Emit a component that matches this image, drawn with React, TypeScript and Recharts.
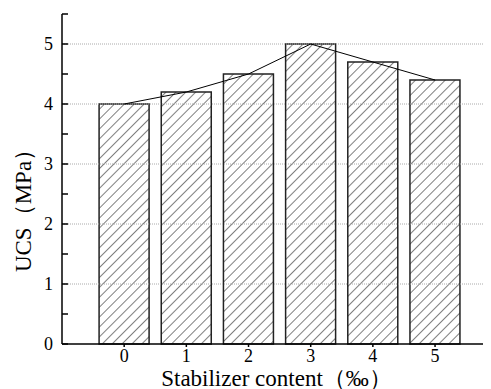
import { ComposedChart, Bar, Line, XAxis, YAxis, ReferenceLine } from 'recharts'

const contents = [0, 1, 2, 3, 4, 5]
const ucs = [4.0, 4.2, 4.5, 5.0, 4.7, 4.4]
const yTicks = [0, 0.5, 1, 1.5, 2, 2.5, 3, 3.5, 4, 4.5, 5, 5.5]
const gridValues = [1, 2, 3, 4, 5]

const data = contents.map((c, i) => ({ content: c, ucs: ucs[i] }))

const SERIF = "'Liberation Serif', 'Times New Roman', serif"

// force the serif face on every text of the chart
const css = `.ucs-chart text, .ucs-chart tspan { font-family: ${SERIF} !important; }`

export default function App() {
    return (
        <div className="ucs-chart" style={{ marginLeft: -8, marginTop: -8, background: '#fff' }}>
            <style>{css}</style>
            <ComposedChart width={491} height={389} data={data} margin={{ top: 14, right: 0, bottom: 0, left: 0 }}>
                <defs>
                    <pattern id="hatch" patternUnits="userSpaceOnUse" width={7} height={7} patternTransform="rotate(45)">
                        <rect width={7} height={7} fill="#fff" />
                        <line x1={0} y1={0} x2={0} y2={7} stroke="#000" strokeWidth={1} />
                    </pattern>
                </defs>
                {gridValues.map((g) => (
                    <ReferenceLine key={g} y={g} stroke="#aaa" strokeDasharray="1 1" strokeWidth={1} />
                ))}
                <XAxis
                    type="number"
                    dataKey="content"
                    domain={[-1, 5.9]}
                    ticks={contents}
                    allowDataOverflow
                    height={45}
                    stroke="#000"
                    strokeWidth={1.5}
                    tickSize={3}
                    tickMargin={2}
                    tick={{ fontSize: 18, fontFamily: SERIF, fill: '#000' }}
                    label={{
                        value: 'Stabilizer content（‰）',
                        position: 'insideBottom',
                        offset: 3,
                        style: { fontFamily: SERIF, fontSize: 23, fill: '#000' },
                    }}
                />
                <YAxis
                    type="number"
                    domain={[0, 5.5]}
                    ticks={yTicks}
                    interval={0}
                    width={62}
                    stroke="#000"
                    strokeWidth={1.5}
                    tickLine={{ stroke: '#000', strokeWidth: 1.5 }}
                    tickSize={-6}
                    tickMargin={15}
                    tickFormatter={(v: number) => (Number.isInteger(v) ? String(v) : '')}
                    tick={{ fontSize: 18, fontFamily: SERIF, fill: '#000' }}
                    label={{
                        value: 'UCS（MPa）',
                        position: 'insideBottom',
                        offset: 139,
                        angle: -90,
                        style: { fontFamily: SERIF, fontSize: 23, fill: '#000' },
                    }}
                />
                <Bar dataKey="ucs" barSize={50} fill="url(#hatch)" stroke="#222" strokeWidth={1.5} isAnimationActive={false} />
                <Line dataKey="ucs" type="linear" stroke="#000" strokeWidth={1} dot={false} isAnimationActive={false} />
            </ComposedChart>
        </div>
    )
}
